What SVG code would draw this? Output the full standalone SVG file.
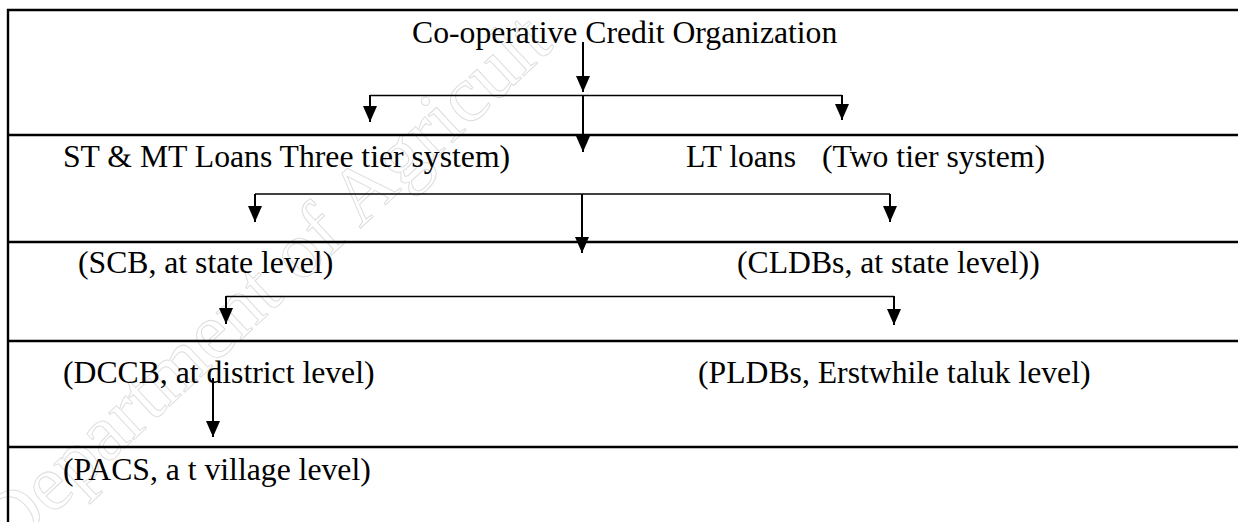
<svg xmlns="http://www.w3.org/2000/svg" width="1238" height="522" viewBox="0 0 1238 522">
<style>
.t{font-family:"Liberation Serif","Times New Roman",serif;font-size:31.7px;fill:#000}
.wm{font-family:"Liberation Serif","Times New Roman",serif;font-size:80px;fill:none;stroke:#dedede;stroke-width:1}
.frame{stroke:#000;stroke-width:2.4;fill:none}
.v{stroke:#000;stroke-width:2;fill:none}
.h{stroke:#000;stroke-width:1.4;fill:none}
</style>
<defs>
<marker id="ah" viewBox="0 0 16 14" refX="16" refY="7" markerWidth="16" markerHeight="14" markerUnits="userSpaceOnUse" orient="auto">
<path d="M0,0 L16,7 L0,14 Z" fill="#000"/>
</marker>
</defs>
<rect width="1238" height="522" fill="#fff"/>
<text class="wm" transform="translate(9,556) rotate(-43)">Department of Agricult</text>
<g id="frame">
<path class="frame" d="M8,522 V10 H1238"/>
<path class="frame" d="M8,135 H1238 M8,242 H1238 M8,341 H1238 M8,447 H1238"/>
</g>
<g id="connectors">
<line class="v" x1="583" y1="42" x2="583" y2="92" marker-end="url(#ah)"/>
<line class="h" x1="370" y1="95.5" x2="842" y2="95.5"/>
<line class="v" x1="370" y1="95" x2="370" y2="122" marker-end="url(#ah)"/>
<line class="v" x1="842" y1="95" x2="842" y2="120" marker-end="url(#ah)"/>
<line class="v" x1="583" y1="95" x2="583" y2="152" marker-end="url(#ah)"/>
<line class="h" x1="255" y1="194" x2="890" y2="194"/>
<line class="v" x1="255" y1="194" x2="255" y2="222" marker-end="url(#ah)"/>
<line class="v" x1="890" y1="194" x2="890" y2="222" marker-end="url(#ah)"/>
<line class="v" x1="582" y1="194" x2="582" y2="253" marker-end="url(#ah)"/>
<line class="h" x1="226" y1="296.5" x2="894" y2="296.5"/>
<line class="v" x1="226" y1="296" x2="226" y2="324" marker-end="url(#ah)"/>
<line class="v" x1="894" y1="296" x2="894" y2="325" marker-end="url(#ah)"/>
<line class="v" x1="213" y1="378" x2="213" y2="437" marker-end="url(#ah)"/>
</g>
<g id="root"><text class="t" x="412" y="43">Co-operative Credit Organization</text></g>
<g id="st-mt"><text class="t" x="63" y="167">ST &amp; MT Loans Three tier system)</text></g>
<g id="lt"><text class="t" y="167"><tspan x="686">LT loans</tspan><tspan x="822">(Two tier system)</tspan></text></g>
<g id="scb"><text class="t" x="78" y="273">(SCB, at state level)</text></g>
<g id="cldb"><text class="t" x="737" y="273">(CLDBs, at state level))</text></g>
<g id="dccb"><text class="t" x="63" y="383">(DCCB, at district level)</text></g>
<g id="pldb"><text class="t" x="698" y="383">(PLDBs, Erstwhile taluk level)</text></g>
<g id="pacs"><text class="t" x="63" y="480">(PACS, a t village level)</text></g>
</svg>
